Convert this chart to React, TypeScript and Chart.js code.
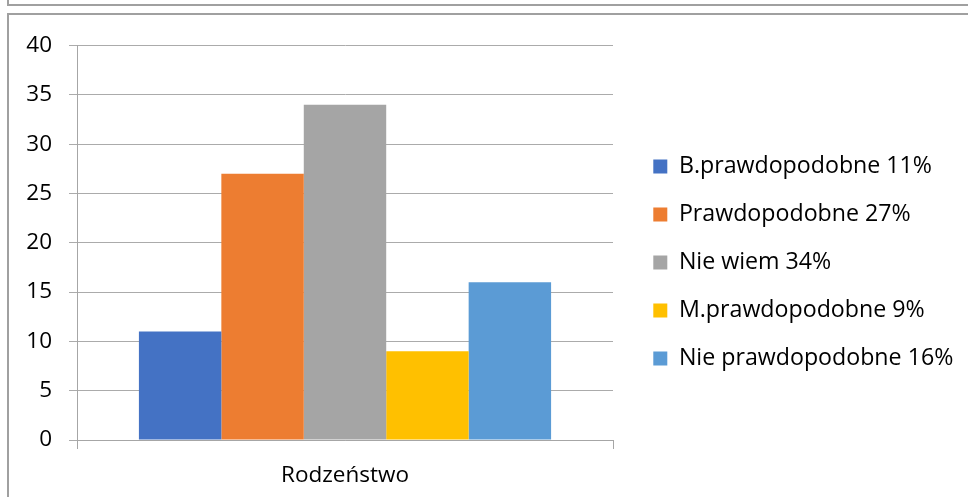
import React, { useEffect, useRef } from "react";
import { Chart, registerables } from "chart.js";

Chart.register(...registerables);

const categories = ["Rodzeństwo"];
const seriesLabels = [
  "B.prawdopodobne 11%",
  "Prawdopodobne 27%",
  "Nie wiem 34%",
  "M.prawdopodobne 9%",
  "Nie prawdopodobne 16%",
];
const seriesValues = [11, 27, 34, 9, 16];
const seriesColors = ["#4472C4", "#ED7D31", "#A5A5A5", "#FFC000", "#5B9BD5"];
const yMin = 0;
const yMax = 40;
const yStep = 5;

const FONT = "'Open Sans', 'DejaVu Sans', sans-serif";
const AXIS_FONT_SIZE = 22.5;
const LEGEND_FONT_SIZE = 23.2;

const legendGap = {
  id: "legendGap",
  afterInit(chart: any) {
    const lg = chart.legend;
    if (!lg) return;
    const orig = lg.fit.bind(lg);
    lg.fit = () => {
      orig();
      lg.width = 355;
    };
  },
  afterLayout(chart: any) {
    const lg = chart.legend;
    if (lg) {
      lg.left += 15.5;
      lg.right += 15.5;
    }
    const x = chart.scales.x;
    if (x) x.bottom = chart.height;
  },
};

export default function App() {
  const ref = useRef<HTMLCanvasElement | null>(null);

  useEffect(() => {
    if (!ref.current) return;
    const chart = new Chart(ref.current, {
      type: "bar",
      data: {
        labels: categories,
        datasets: seriesLabels.map((label, i) => ({
          label,
          data: [seriesValues[i]],
          backgroundColor: seriesColors[i],
          borderWidth: 0,
          barPercentage: 1,
          categoryPercentage: 0.769,
        })),
      },
      options: {
        responsive: false,
        animation: false,
        devicePixelRatio: 1,
        layout: { padding: { left: 0, top: 28, right: 0, bottom: 15 } },
        plugins: {
          tooltip: { enabled: false },
          legend: {
            position: "right",
            labels: {
              boxWidth: 14,
              boxHeight: 14,
              padding: 24.8,
              color: "#000",
              font: { family: FONT, size: LEGEND_FONT_SIZE },
            },
          },
        },
        scales: {
          x: {
            afterFit: (s: any) => {
              s.height = 42;
            },
            grid: {
              display: true,
              drawOnChartArea: false,
              drawTicks: true,
              tickLength: 9,
              color: "#a6a6a6",
              offset: true,
            },
            border: { display: true, color: "#a6a6a6", width: 1 },
            ticks: {
              color: "#000",
              padding: 13,
              font: { family: FONT, size: AXIS_FONT_SIZE },
            },
          },
          y: {
            min: yMin,
            max: yMax,
            afterFit: (s: any) => {
              s.width = 68;
            },
            grid: {
              color: "#ababab",
              drawTicks: true,
              tickLength: 8,
            },
            border: { display: true, color: "#a6a6a6", width: 1 },
            ticks: {
              stepSize: yStep,
              color: "#000",
              padding: 17,
              font: { family: FONT, size: AXIS_FONT_SIZE },
            },
          },
        },
      },
      plugins: [legendGap],
    });
    return () => chart.destroy();
  }, []);

  return (
    <div
      style={{
        position: "absolute",
        left: 0,
        top: 0,
        width: 968,
        height: 497,
        overflow: "hidden",
        background: "#fff",
      }}
    >
      <div
        style={{
          position: "absolute",
          left: 7,
          top: -20,
          width: 980,
          height: 24,
          borderLeft: "2px solid #a0a0a0",
          borderBottom: "2px solid #a0a0a0",
        }}
      />
      <div
        style={{
          position: "absolute",
          left: 7,
          top: 13,
          width: 980,
          height: 500,
          borderLeft: "2px solid #a0a0a0",
          borderTop: "2px solid #a0a0a0",
        }}
      >
        <canvas ref={ref} width={959} height={482} style={{ display: "block" }} />
      </div>
    </div>
  );
}
